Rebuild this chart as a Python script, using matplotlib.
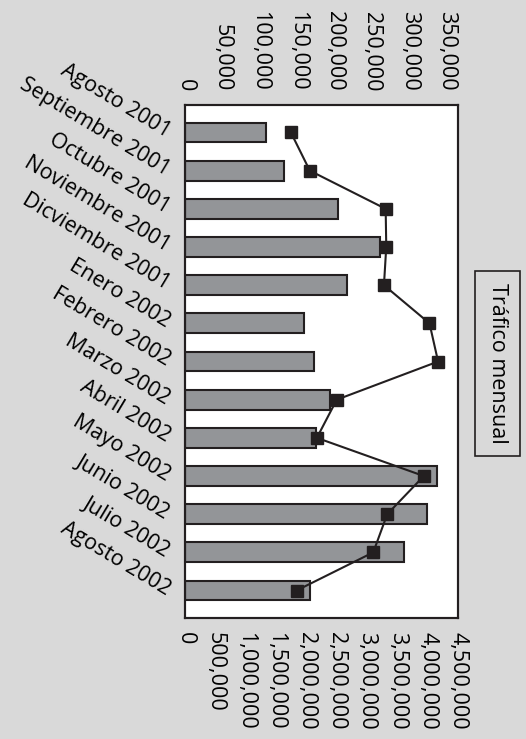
import numpy as np
import matplotlib
matplotlib.use("Agg")
import matplotlib.pyplot as plt
from matplotlib.ticker import FuncFormatter

months = ["Agosto 2001", "Septiembre 2001", "Octubre 2001", "Noviembre 2001",
          "Dicviembre 2001", "Enero 2002", "Febrero 2002", "Marzo 2002",
          "Abril 2002", "Mayo 2002", "Junio 2002", "Julio 2002", "Agosto 2002"]
bar_values = [1333000, 1624000, 2521000, 3220000, 2670000, 1965000, 2130000,
              2383000, 2158000, 4156000, 3991000, 3605000, 2053000]
line_values = [141600, 166900, 268300, 269100, 266000, 326900, 338400,
               202900, 176300, 319300, 270400, 251700, 149100]
bar_ticks = [0, 500000, 1000000, 1500000, 2000000, 2500000, 3000000, 3500000, 4000000, 4500000]
line_ticks = [0, 50000, 100000, 150000, 200000, 250000, 300000, 350000]
legend_label = "Tráfico mensual"

plt.rcParams['font.family'] = ['Open Sans', 'DejaVu Sans']
FS = 15.5
BG = '#d9d9d9'
DARK = '#231f20'

fig = plt.figure(figsize=(5.26, 7.39), dpi=100, facecolor=BG)
ax = fig.add_axes([0.3517, 0.1637, 0.519, 0.6942])
ax.set_facecolor('white')
pos = np.arange(len(months))
ax.barh(pos, bar_values, height=0.52, color='#939598', edgecolor=DARK, linewidth=1.5, zorder=2)
ax.set_xlim(0, 4500000)
ax.set_ylim(len(months) - 1 + 0.72, -0.72)
ax.set_xticks(bar_ticks)
ax.xaxis.set_major_formatter(FuncFormatter(lambda v, p: f"{int(v):,}"))
ax.tick_params(axis='x', length=0, pad=10, labelsize=FS, labelrotation=-90)
ax.set_yticks(pos)
ax.set_yticklabels(months, rotation=-31, ha='right', va='center', rotation_mode='anchor', fontsize=FS)
ax.tick_params(axis='y', length=0, pad=12)

ax2 = ax.twiny()
ax2.plot(line_values, pos, color=DARK, marker='s', markersize=8, linewidth=1.5, zorder=3)
ax2.set_xlim(0, 365000)
ax2.set_xticks(line_ticks)
ax2.xaxis.set_major_formatter(FuncFormatter(lambda v, p: f"{int(v):,}"))
ax2.tick_params(axis='x', length=0, pad=10, labelsize=FS, labelrotation=-90)
ax2.set_ylim(len(months) - 1 + 0.72, -0.72)

for a in (ax, ax2):
    for s in a.spines.values():
        s.set_color(DARK)
        s.set_linewidth(1.5)

fig.text(0.946, 0.508, legend_label, rotation=-90, ha='center', va='center', fontsize=FS,
         bbox=dict(boxstyle='square,pad=0.55', facecolor=BG, edgecolor=DARK, linewidth=1.2))

fig.savefig("out.png", dpi=100, facecolor=BG)
